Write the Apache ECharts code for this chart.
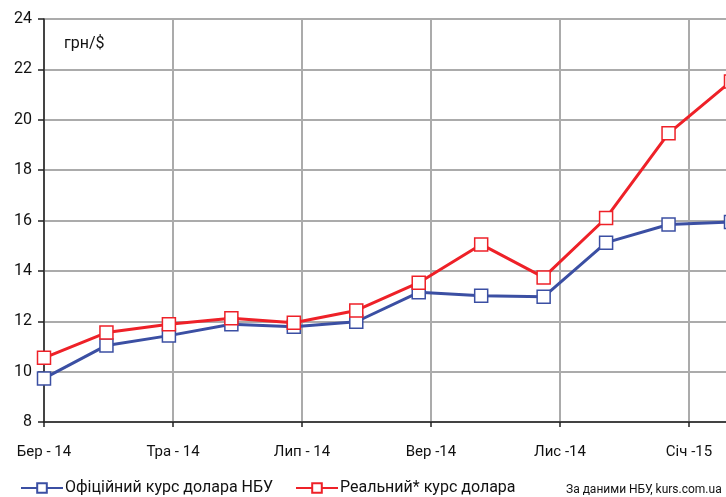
<!DOCTYPE html>
<html>
<head>
<meta charset="utf-8">
<script src="https://cdn.jsdelivr.net/npm/echarts@6/dist/echarts.min.js"></script>
<style>
    html, body { margin: 0; padding: 0; background: #fff; overflow: hidden; }
    /* полотно ширше за вікно: графік обрізано справа, як в оригіналі */
    #chart { width: 900px; height: 497px; }
</style>
</head>
<body>
<div id="chart"></div>
<script>
// місяці (точки) та підписи осі
const months = ['Бер', 'Кві', 'Тра', 'Чер', 'Лип', 'Сер', 'Вер', 'Жов', 'Лис', 'Гру', 'Січ', 'Лют'];
const tickLabels = ['Бер - 14', 'Тра - 14', 'Лип - 14', 'Вер -14', 'Лис -14', 'Січ -15'];

const official = [9.73, 11.04, 11.43, 11.88, 11.78, 11.98, 13.15, 13.01, 12.97, 15.12, 15.84, 15.94];
const real = [10.55, 11.55, 11.88, 12.12, 11.94, 12.43, 13.53, 15.05, 13.74, 16.10, 19.46, 21.52];

const font = 'Roboto, "Noto Sans", sans-serif';

const myChart = echarts.init(document.getElementById('chart'));

const option = {
    animation: false,
    textStyle: {fontFamily: font},
    grid: [
        {left: 44, width: 687, top: 19, bottom: 75, containLabel: false},  // дані
        {left: 44, width: 774, top: 19, bottom: 75, containLabel: false}   // сітка по 2 місяці
    ],
    legend: [
        {
            data: ['Офіційний курс долара НБУ'],
            left: 20, top: 480, padding: 0,
            itemWidth: 42, itemHeight: 12, itemGap: 0,
            textStyle: {fontSize: 16, color: '#111', padding: [0, 0, 0, -3]}
        },
        {
            data: ['Реальний* курс долара'],
            left: 295, top: 480, padding: 0,
            itemWidth: 42, itemHeight: 12, itemGap: 0,
            textStyle: {fontSize: 16, color: '#111', padding: [0, 0, 0, -3]}
        }
    ],
    graphic: [
        {type: 'text', left: 64, top: 36, style: {text: 'грн/$', font: '16px ' + font, fill: '#111'}},
        {type: 'text', left: 566, top: 484, style: {text: 'За даними НБУ, kurs.com.ua', font: '12px ' + font, fill: '#111'}}
    ],
    xAxis: [
        {
            type: 'category',
            gridIndex: 0,
            data: months,
            boundaryGap: false,
            axisLine: {show: false},
            axisTick: {show: false},
            axisLabel: {show: false},
            splitLine: {show: false}
        },
        {
            type: 'value',
            gridIndex: 1,
            min: 0,
            max: 12,
            interval: 2,
            axisLine: {show: true, lineStyle: {color: '#222', width: 1.5}},
            axisTick: {show: true, length: 5, lineStyle: {color: '#222', width: 1.5}},
            axisLabel: {
                fontSize: 15, color: '#111', margin: 23,
                formatter: function (v) {
                    return tickLabels[v / 2] || '';
                }
            },
            splitLine: {show: true, lineStyle: {color: '#ababab', width: 2}}
        }
    ],
    yAxis: [
        {
            type: 'value',
            gridIndex: 0,
            min: 8,
            max: 24,
            interval: 2,
            axisLine: {show: true, lineStyle: {color: '#222', width: 1.5}},
            axisTick: {show: true, length: 6, lineStyle: {color: '#222', width: 1.5}},
            axisLabel: {fontSize: 16, color: '#111', margin: 12},
            splitLine: {lineStyle: {color: '#ababab', width: 2}}
        },
        {
            type: 'value',
            gridIndex: 1,
            min: 8,
            max: 24,
            show: false,
            splitLine: {show: false}
        }
    ],
    series: [
        {
            name: 'Офіційний курс долара НБУ',
            type: 'line',
            xAxisIndex: 0,
            yAxisIndex: 0,
            data: official,
            symbol: 'rect',
            symbolSize: 13,
            color: '#3b4fa3',
            lineStyle: {color: '#3b4fa3', width: 3},
            itemStyle: {color: '#fff', borderColor: '#3b4fa3', borderWidth: 1.5},
            z: 3
        },
        {
            name: 'Реальний* курс долара',
            type: 'line',
            xAxisIndex: 0,
            yAxisIndex: 0,
            data: real,
            symbol: 'rect',
            symbolSize: 13,
            color: '#ee2128',
            lineStyle: {color: '#ee2128', width: 3},
            itemStyle: {color: '#fff', borderColor: '#ee2128', borderWidth: 1.5},
            z: 4
        }
    ]
};

myChart.setOption(option);
</script>
</body>
</html>
